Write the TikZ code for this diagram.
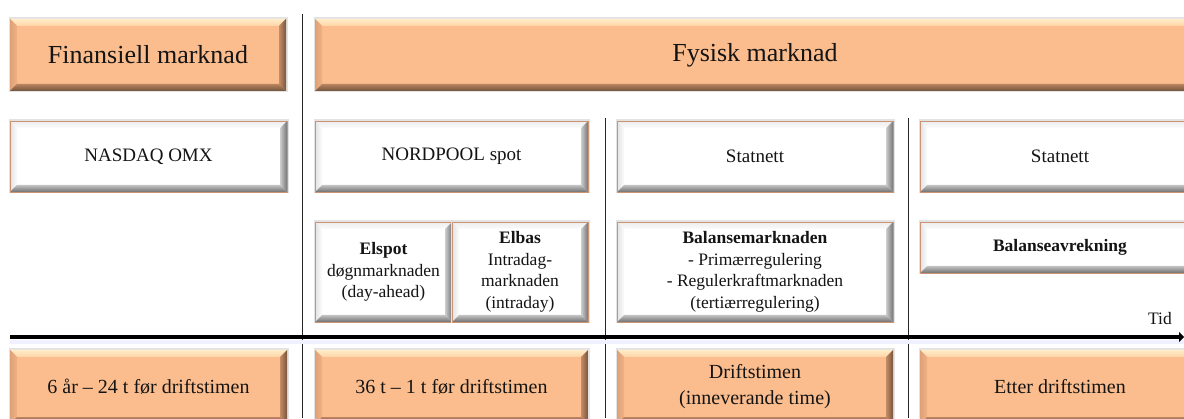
\documentclass[tikz,border=0pt]{standalone}
\usepackage{fontspec}
\setmainfont{Liberation Serif}
\usetikzlibrary{arrows.meta,calc}
% orange bevel colours
\definecolor{orfill}{RGB}{251,189,141}
\definecolor{orto}{RGB}{255,236,200}
\definecolor{orti}{RGB}{255,212,166}
\definecolor{orri}{RGB}{196,140,100}
\definecolor{orro}{RGB}{120,86,62}
\definecolor{orbi}{RGB}{185,132,95}
\definecolor{orbo}{RGB}{112,84,62}
\definecolor{orlo}{RGB}{222,160,118}
\definecolor{orli}{RGB}{240,178,132}
% white bevel colours
\definecolor{whto}{RGB}{236,236,236}
\definecolor{whti}{RGB}{252,252,252}
\definecolor{whri}{RGB}{205,205,205}
\definecolor{whro}{RGB}{118,118,118}
\definecolor{whbi}{RGB}{195,195,195}
\definecolor{whbo}{RGB}{112,112,112}
\definecolor{whlo}{RGB}{226,226,226}
\definecolor{whli}{RGB}{252,252,252}
\definecolor{wbord}{RGB}{205,148,116}
\definecolor{txt}{RGB}{20,20,20}

\newcommand\bev[2]{%
 \shade[top color=#2to,bottom color=#2ti] (#1.north west) -- (#1.north east) -- ([shift={(-7,-7)}]#1.north east) -- ([shift={(7,-7)}]#1.north west) -- cycle;
 \shade[left color=#2lo,right color=#2li] (#1.south west) -- (#1.north west) -- ([shift={(7,-7)}]#1.north west) -- ([shift={(7,7)}]#1.south west) -- cycle;
 \shade[left color=#2ri,right color=#2ro] (#1.north east) -- (#1.south east) -- ([shift={(-7,7)}]#1.south east) -- ([shift={(-7,-7)}]#1.north east) -- cycle;
 \shade[top color=#2bi,bottom color=#2bo] (#1.south east) -- (#1.south west) -- ([shift={(7,7)}]#1.south west) -- ([shift={(-7,7)}]#1.south east) -- cycle;
}

\tikzset{
 basebox/.style={inner sep=0pt, outer sep=0pt, align=center, text=txt,
   preaction={draw=black!11, line width=3pt}},
 orbox/.style={basebox, fill=orfill},
 whbox/.style={basebox, fill=white},
 big/.style={font=\fontsize{26}{30}\selectfont},
 mid/.style={font=\fontsize{19}{23}\selectfont},
 low/.style={font=\fontsize{20}{26}\selectfont},
 small/.style={font=\fontsize{17.5}{21.5}\selectfont},
 vline/.style={draw=black!85, line width=1pt},
 timeline/.style={draw=black, line width=4.5pt, -{Triangle[length=5pt,width=10pt]}},
}

\begin{document}
\begin{tikzpicture}[x=1pt,y=1pt]
\useasboundingbox (0,0) rectangle (1184,418);
\clip (0,0) rectangle (1184,418);

% vertical separators
\coordinate (v1t) at (302,404); \coordinate (v1b) at (302,0);
\coordinate (v2t) at (605,300); \coordinate (v2b) at (605,0);
\coordinate (v3t) at (908,300); \coordinate (v3b) at (908,0);
\draw[vline] (v1t) -- (v1b);
\draw[vline] (v2t) -- (v2b);
\draw[vline] (v3t) -- (v3b);

% top row
\node[orbox,big,minimum width=276pt,minimum height=72pt] (fin) at (148,363) {Finansiell marknad};
\bev{fin}{or}
\node[orbox,big,minimum width=880pt,minimum height=72pt] (fys) at (755,363) {Fysisk marknad};
\bev{fys}{or}

% second row
\node[whbox,mid,minimum width=277pt,minimum height=71pt] (nas) at (148.5,261.5) {NASDAQ OMX};
\bev{nas}{wh}\draw[wbord,line width=0.8pt] (nas.south west) rectangle (nas.north east);
\node[whbox,mid,minimum width=273pt,minimum height=71pt] (nord) at (451.5,261.5) {NORDPOOL spot};
\bev{nord}{wh}\draw[wbord,line width=0.8pt] (nord.south west) rectangle (nord.north east);
\node[whbox,mid,minimum width=276pt,minimum height=71pt] (stat1) at (755,261.5) {Statnett};
\bev{stat1}{wh}\draw[wbord,line width=0.8pt] (stat1.south west) rectangle (stat1.north east);
\node[whbox,mid,minimum width=280pt,minimum height=71pt] (stat2) at (1060,261.5) {Statnett};
\bev{stat2}{wh}\draw[wbord,line width=0.8pt] (stat2.south west) rectangle (stat2.north east);

% third row
\node[whbox,small,minimum width=137pt,minimum height=100pt] (elspot) at (383.5,146) {\textbf{Elspot}\\døgnmarknaden\\(day-ahead)};
\bev{elspot}{wh}\draw[wbord,line width=0.8pt] (elspot.south west) rectangle (elspot.north east);
\node[whbox,small,minimum width=136pt,minimum height=100pt] (elbas) at (520,146) {\textbf{Elbas}\\Intradag-\\marknaden\\(intraday)};
\bev{elbas}{wh}\draw[wbord,line width=0.8pt] (elbas.south west) rectangle (elbas.north east);
\node[whbox,small,minimum width=276pt,minimum height=100pt] (bal) at (755,146) {\textbf{Balansemarknaden}\\- Primærregulering\\- Regulerkraftmarknaden\\(tertiærregulering)};
\bev{bal}{wh}\draw[wbord,line width=0.8pt] (bal.south west) rectangle (bal.north east);
\node[whbox,small,minimum width=280pt,minimum height=51pt] (avr) at (1060,170.5) {\textbf{Balanseavrekning}};
\bev{avr}{wh}\draw[wbord,line width=0.8pt] (avr.south west) rectangle (avr.north east);

% time axis
\coordinate (t0) at (10,81);
\coordinate (t1) at (1184,81);
\draw[draw=blue!6, line width=4pt] ([yshift=-5]t0) -- ([yshift=-5]t1);
\draw[timeline] (t0) -- (t1);
\node[small,text=txt] (tid) at (1160,99) {Tid};

% bottom row
\node[orbox,low,minimum width=277pt,minimum height=74pt] (p1) at (148.5,31) {6 år -- 24 t før driftstimen};
\bev{p1}{or}
\node[orbox,low,minimum width=273pt,minimum height=74pt] (p2) at (451.5,31) {36 t -- 1 t før driftstimen};
\bev{p2}{or}
\node[orbox,low,minimum width=276pt,minimum height=74pt] (p3) at (755,31) {Driftstimen\\(inneverande time)};
\bev{p3}{or}
\node[orbox,low,minimum width=280pt,minimum height=74pt] (p4) at (1060,31) {Etter driftstimen};
\bev{p4}{or}
\end{tikzpicture}
\end{document}
